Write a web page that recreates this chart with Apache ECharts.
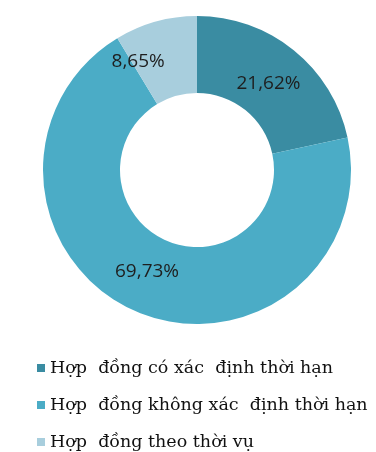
<!DOCTYPE html>
<html lang="vi">
<head>
    <meta charset="UTF-8">
    <script src="https://cdn.jsdelivr.net/npm/echarts@6/dist/echarts.min.js"></script>
    <title>Hợp đồng</title>
    <style>
        html, body { margin: 0; padding: 0; background: #fff; }
    </style>
</head>
<body>
    <div id="contract-pie" style="width: 376px;height:452px;"></div>
</body>
<script type="text/javascript">
    // dữ liệu
    var categories = ['Hợp  đồng có xác  định thời hạn', 'Hợp  đồng không xác  định thời hạn', 'Hợp  đồng theo thời vụ'];
    var values = [21.62, 69.73, 8.65];
    var labels = ['21,62%', '69,73%', '8,65%'];
    var colors = ['#3a8ca2', '#4bacc6', '#a8cedd'];

    var contractPie = echarts.init(document.getElementById('contract-pie'));

    var labelOffsets = [[-3, 6], [-3, -7], [-27, 6]]; // nhãn đặt như ảnh gốc

    var pieData = categories.map(function (name, i) {
        return {
            name: name,
            value: values[i],
            itemStyle: { color: colors[i] },
            label: { formatter: labels[i], offset: labelOffsets[i] }
        };
    });

    contractPie.setOption({
        animation: false,
        legend: {
            orient: 'vertical',
            left: 37,
            top: 359,
            height: 120,
            padding: 0,
            itemWidth: 8,
            itemHeight: 8,
            itemGap: 19,
            icon: 'rect',
            data: categories,
            textStyle: {
                fontFamily: 'DejaVu Serif',
                fontSize: 17.5,
                color: '#111'
            }
        },
        series: [{
            type: 'pie',
            center: [197, 170],
            radius: [77, 154],
            startAngle: 90,
            clockwise: true,
            silent: true,
            data: pieData,
            label: {
                show: true,
                position: 'inside',
                color: '#1e1e1e',
                fontFamily: 'Open Sans',
                fontSize: 19
            },
            labelLine: { show: false },
            itemStyle: { borderWidth: 0 }
        }]
    });
</script>
</html>
